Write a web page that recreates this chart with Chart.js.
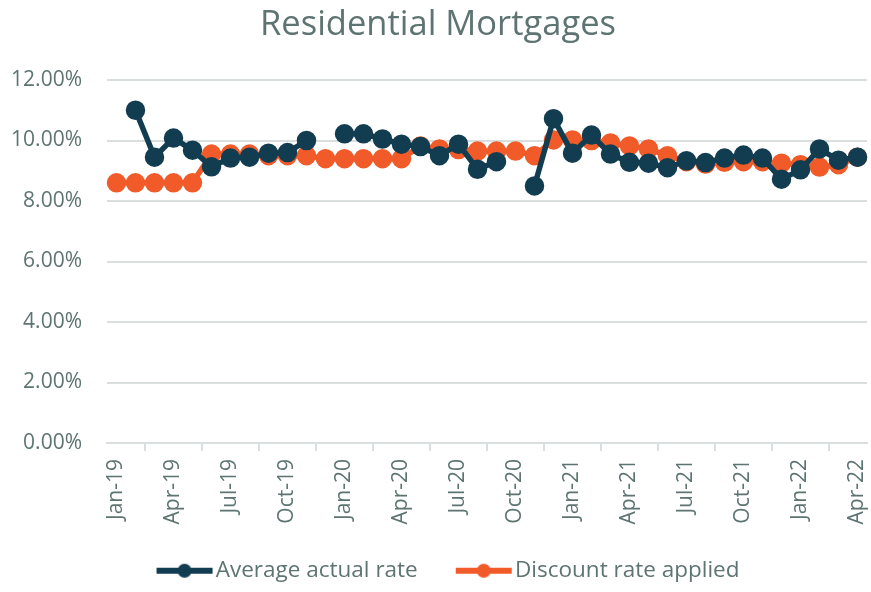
<!DOCTYPE html>
<html>
<head>
<meta charset="utf-8">
<script src="https://cdn.jsdelivr.net/npm/chart.js@4"></script>
<style>
  html, body { margin: 0; padding: 0; background: #fff; }
  #wrap { width: 871px; height: 592px; position: relative; }
</style>
</head>
<body>
<div id="wrap"><canvas id="myChart"></canvas></div>
<script>
// months Jan-19 .. Apr-22
const months = ["Jan-19","Feb-19","Mar-19","Apr-19","May-19","Jun-19","Jul-19","Aug-19","Sep-19","Oct-19","Nov-19","Dec-19",
  "Jan-20","Feb-20","Mar-20","Apr-20","May-20","Jun-20","Jul-20","Aug-20","Sep-20","Oct-20","Nov-20","Dec-20",
  "Jan-21","Feb-21","Mar-21","Apr-21","May-21","Jun-21","Jul-21","Aug-21","Sep-21","Oct-21","Nov-21","Dec-21",
  "Jan-22","Feb-22","Mar-22","Apr-22"];

// rates in %
const actualRate = [null, 11.0, 9.45, 10.08, 9.68, 9.13, 9.42, 9.45, 9.58, 9.6, 10.0, null,
  10.22, 10.22, 10.05, 9.88, 9.8, 9.5, 9.88, 9.05, 9.3, null, 8.5, 10.72,
  9.58, 10.18, 9.55, 9.28, 9.25, 9.1, 9.33, 9.27, 9.42, 9.52, 9.42, 8.72,
  9.03, 9.72, 9.35, 9.45];

const discountRate = [8.6, 8.6, 8.6, 8.6, 8.6, 9.55, 9.55, 9.55, 9.5, 9.5, 9.5, 9.4,
  9.4, 9.4, 9.4, 9.4, 9.82, 9.72, 9.7, 9.65, 9.65, 9.65, 9.5, 10.02,
  10.02, 10.0, 9.92, 9.82, 9.72, 9.5, 9.3, 9.22, 9.28, 9.3, 9.3, 9.25,
  9.2, 9.12, 9.2, 9.45];

const yTicks = [0, 2, 4, 6, 8, 10, 12];

const DARK = "#123d50";
const ORANGE = "#f15a29";
const TEXT = "#5e7472";
const GRID = "#d9dfde";

// legend marker: thick line with a dot, placed inside a wide canvas
function legendMarker(color) {
  const c = document.createElement("canvas");
  c.width = 100; c.height = 18;
  const g = c.getContext("2d");
  g.strokeStyle = color;
  g.lineWidth = 6;
  g.lineCap = "butt";
  g.beginPath(); g.moveTo(36, 9); g.lineTo(92, 9); g.stroke();
  g.fillStyle = color;
  g.beginPath(); g.arc(64, 9, 7, 0, Math.PI * 2); g.fill();
  return c;
}
const markers = [legendMarker(DARK), legendMarker(ORANGE)];

Chart.defaults.font.family = "'Open Sans', sans-serif";
Chart.defaults.color = TEXT;

const ctx = document.getElementById("myChart").getContext("2d");
const chart = new Chart(ctx, {
  type: "line",
  data: {
    labels: months,
    datasets: [
      {
        label: "Average actual rate",
        data: actualRate,
        borderColor: DARK,
        backgroundColor: DARK,
        borderWidth: 5.5,
        pointRadius: 7,
        pointHoverRadius: 7,
        spanGaps: false
      },
      {
        label: "Discount rate applied",
        data: discountRate,
        borderColor: ORANGE,
        backgroundColor: ORANGE,
        borderWidth: 5.5,
        pointRadius: 7,
        pointHoverRadius: 7
      }
    ]
  },
  options: {
    responsive: true,
    maintainAspectRatio: false,
    animation: false,
    layout: { autoPadding: false, padding: { left: 9, right: 4, top: 0, bottom: 0 } },
    plugins: {
      title: {
        display: true,
        text: "Residential Mortgages",
        color: TEXT,
        font: { size: 34.5, weight: "normal" },
        padding: { top: 4, bottom: 34.6 }
      },
      legend: {
        position: "bottom",
        labels: {
          usePointStyle: true,
          pointStyleWidth: 68,
          padding: 18,
          color: TEXT,
          font: { size: 22.5 },
          generateLabels: (ch) => ch.data.datasets.map((ds, i) => ({
            text: ds.label,
            pointStyle: markers[i],
            fillStyle: ds.borderColor,
            strokeStyle: ds.borderColor,
            lineWidth: 0,
            datasetIndex: i,
            hidden: false,
            fontColor: TEXT
          }))
        }
      },
      tooltip: { enabled: false }
    },
    scales: {
      x: {
        offset: true,
        border: { color: GRID, width: 2 },
        grid: {
          offset: true,
          drawOnChartArea: false,
          drawTicks: true,
          tickLength: 8,
          color: GRID,
          lineWidth: 2
        },
        ticks: {
          autoSkip: false,
          minRotation: 90,
          maxRotation: 90,
          padding: 8,
          color: TEXT,
          font: { size: 21 },
          callback: function (v, i) {
            return i % 3 === 0 ? months[i] : null;
          }
        },
        afterFit: (s) => { s.height = 98.5; s.paddingRight = 0; }
      },
      y: {
        min: 0,
        max: 12,
        border: { display: false },
        grid: { color: GRID, lineWidth: 2, drawTicks: false },
        afterBuildTicks: (axis) => { axis.ticks = yTicks.map(v => ({ value: v })); },
        afterFit: (s) => { s.width = 98; },
        ticks: {
          padding: 25,
          color: TEXT,
          font: { size: 21 },
          callback: (v) => v.toFixed(2) + "%"
        }
      }
    }
  }
});
</script>
</body>
</html>
